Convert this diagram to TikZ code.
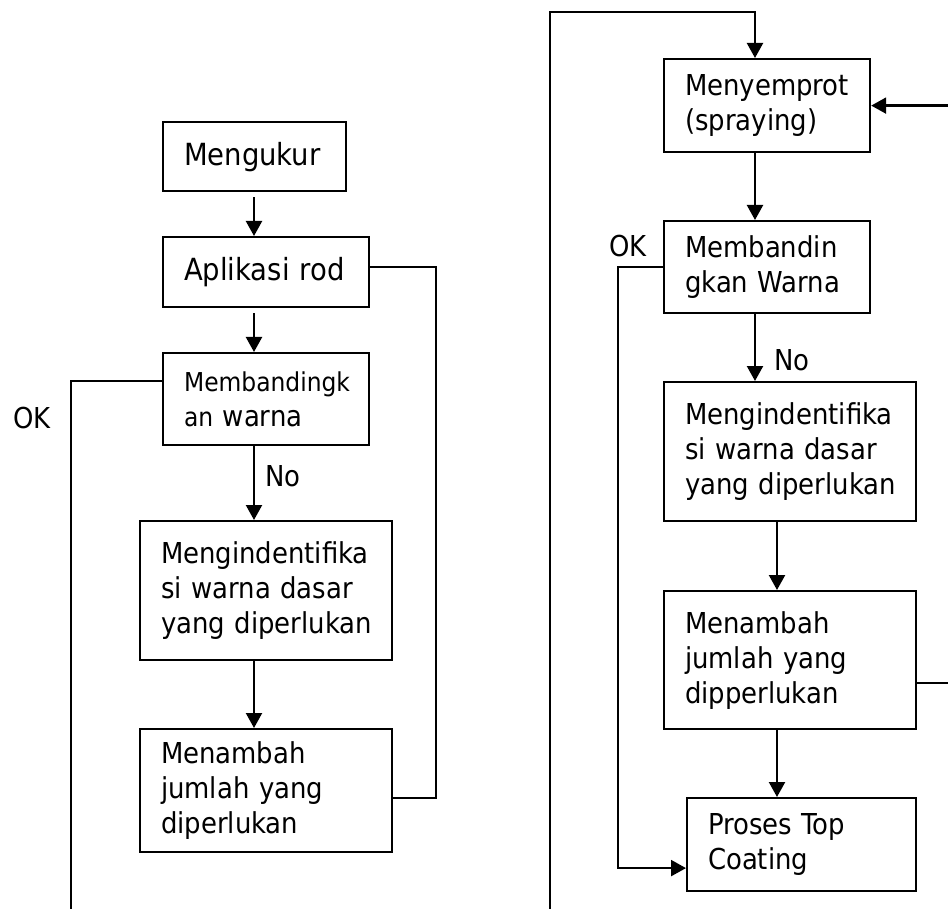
\documentclass[tikz,border=0pt]{standalone}
\usepackage{fontspec}
\setmainfont{DejaVu Sans Condensed}
\usetikzlibrary{arrows.meta}

\hyphenpenalty=10000
\exhyphenpenalty=10000
\newcommand{\boxfont}{\fontsize{28.8}{35}\selectfont}
\newcommand{\bigboxfont}{\fontsize{30.5}{35}\selectfont}
\newcommand{\smallword}[1]{{\fontsize{26}{35}\selectfont #1}}

\begin{document}
\begin{tikzpicture}[
  x=1pt, y=-1pt,
  box/.style={draw, line width=2.2pt, anchor=north west, inner xsep=21pt, inner ysep=3pt,
              align=left, font=\boxfont},
  arr/.style={-{Triangle[length=15pt,width=16pt]}, line width=2.2pt},
  link/.style={line width=1.8pt},
  lbl/.style={font=\boxfont, inner sep=0pt}
]
\useasboundingbox (0,0) rectangle (948,909);
\clip (0,0) rectangle (948,909);

% left column
\node[box, font=\bigboxfont, text width=141pt, minimum height=69pt] (ukur) at (162,121) {Mengukur};
\node[box, font=\bigboxfont, text width=164pt, minimum height=70pt] (rod) at (162,236) {Aplikasi rod};
\node[box, text width=164pt, minimum height=92pt] (bandL) at (162,352)
  {\smallword{Membandingk}\\\smallword{an} warna};
\node[box, text width=210pt, minimum height=139pt] (identL) at (139,520)
  {Mengindentifika\\si warna dasar\\yang~diperlukan};
\node[box, text width=210pt, minimum height=123pt] (tambahL) at (139,728)
  {Menambah\\jumlah yang\\diperlukan};

\coordinate (colL) at (254,0);
\coordinate (retL) at (436,0);
\coordinate (okL) at (71,909);
\node[lbl] (okLtxt) at (32,418) {OK};

\draw[arr, shorten <=5pt] (ukur.south -| colL) -- (rod.north -| colL);
\draw[arr, shorten <=5pt] (rod.south -| colL) -- (bandL.north -| colL);
\draw[arr] (bandL.south -| colL) -- node[right, lbl, xshift=10pt, yshift=7pt] (noL) {No} (identL.north -| colL);
\draw[arr] (identL.south -| colL) -- (tambahL.north -| colL);
\draw[link] ([yshift=5pt]rod.east) -- ([yshift=5pt]rod.east -| retL) |- ([yshift=-7pt]tambahL.east);
\draw[link] ([yshift=-29pt]bandL.north west) -| (okL);

% right column
\node[box, text width=164pt, minimum height=93pt] (semprot) at (663,58)
  {Menyemprot\\(spraying)};
\node[box, text width=164pt, minimum height=92pt] (bandR) at (663,220)
  {Membandin\\gkan Warna};
\node[box, text width=210pt, minimum height=139pt] (identR) at (663,381)
  {Mengindentifika\\si warna dasar\\yang~diperlukan};
\node[box, text width=210pt, minimum height=138pt] (tambahR) at (663,590)
  {Menambah\\jumlah yang\\dipperlukan};
\node[box, text width=187pt, minimum height=93pt] (topcoat) at (686,797)
  {Proses Top\\Coating};

\coordinate (colR) at (755,0);
\coordinate (colR2) at (777,0);
\coordinate (startR) at (550,909);
\coordinate (topR) at (755,12);
\coordinate (okR) at (618,0);
\coordinate (retR) at (956,0);
\node[lbl] (okRtxt) at (628,246) {OK};

\draw[arr] (startR) |- (topR) -- (semprot.north -| colR);
\draw[arr] (semprot.south -| colR) -- (bandR.north -| colR);
\draw[arr] (bandR.south -| colR) -- node[right, lbl, xshift=18pt, yshift=-13pt] (noR) {No} (identR.north -| colR);
\draw[arr] (identR.south -| colR2) -- (tambahR.north -| colR2);
\draw[arr] (tambahR.south -| colR2) -- (topcoat.north -| colR2);
\draw[arr] (bandR.west) -- (bandR.west -| okR) |- ([yshift=-23.5pt]topcoat.west);
\draw[arr] ([yshift=-23pt]tambahR.east) -- ([yshift=-23pt]tambahR.east -| retR) |- (semprot.east);
\end{tikzpicture}
\end{document}
